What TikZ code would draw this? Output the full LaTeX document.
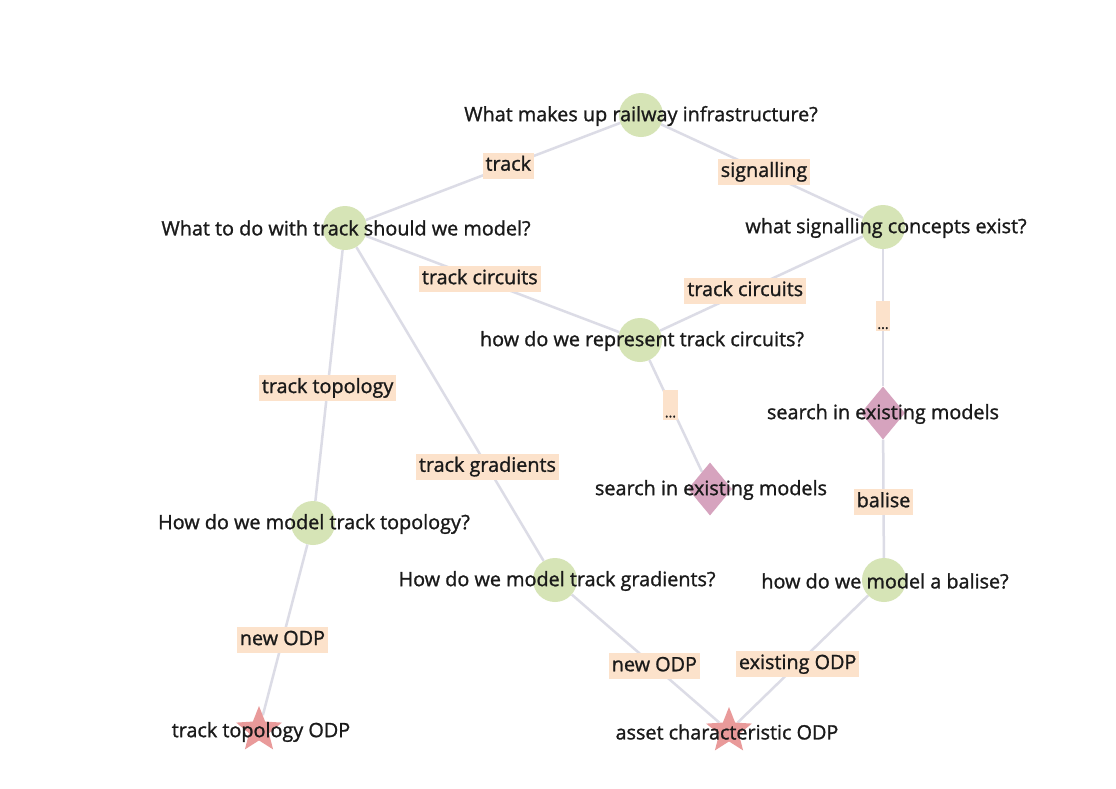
\documentclass[tikz,border=0pt]{standalone}
\usepackage{fontspec}
\setmainfont{Open Sans}[BoldFont={Open Sans},BoldFeatures={FakeBold=1.2}]
\usetikzlibrary{shapes.geometric,backgrounds}
\definecolor{edgec}{HTML}{DCDCE6}
\definecolor{greenc}{HTML}{D6E4B6}
\definecolor{pinkc}{HTML}{D6A3BE}
\definecolor{starc}{HTML}{E99A9A}
\definecolor{lblc}{HTML}{FCE2CB}
\definecolor{textc}{HTML}{1A1A1A}
\begin{document}
\begin{tikzpicture}[x=1pt,y=-1pt,
  q/.style={circle,fill=greenc,minimum size=44pt,inner sep=0pt},
  srch/.style={diamond,fill=pinkc,minimum width=44pt,minimum height=53pt,inner sep=0pt},
  odp/.style={star,star points=5,star point ratio=2.3,fill=starc,minimum size=48pt,inner sep=0pt},
  txt/.style={font=\fontsize{19.8}{21}\selectfont\bfseries,text=textc,inner sep=1pt},
  lbl/.style={fill=lblc,font=\fontsize{19.8}{21}\selectfont\bfseries,text=textc,inner xsep=3pt,inner ysep=3pt,text height=15pt,text depth=5pt},
  dots/.style={fill=lblc,font=\fontsize{14}{16}\selectfont\bfseries,text=textc,inner sep=1.5pt,text height=26pt,text depth=1pt},
  edge/.style={draw=edgec,line width=2.5pt}
]
\useasboundingbox (0,0) rectangle (1116,788);
% shapes
\node[q] (a) at (641,115) {};
\node[q] (b) at (345,228) {};
\node[q] (c) at (883,227) {};
\node[q] (d) at (640,340) {};
\node[srch] (e) at (883,413) {};
\node[srch] (f) at (710,489) {};
\node[q] (g) at (313,523) {};
\node[q] (h) at (555,580) {};
\node[q] (i) at (884,580) {};
\node[odp] (j) at (259,730) {};
\node[odp] (k) at (729,731) {};
% texts
\node[txt] (at) at (641,116) {What makes up railway infrastructure?};
\node[txt] (bt) at (346,228) {What to do with track should we model?};
\node[txt] (ct) at (886,228) {what signalling concepts exist?};
\node[txt] (dt) at (642,341) {how do we represent track circuits?};
\node[txt] (et) at (883,414) {search in existing models};
\node[txt] (ft) at (711,490) {search in existing models};
\node[txt] (gt) at (314,524) {How do we model track topology?};
\node[txt] (ht) at (557,581) {How do we model track gradients?};
\node[txt] (it) at (885,581) {how do we model a balise?};
\node[txt] (jt) at (261,732) {track topology ODP};
\node[txt] (kt) at (727,732) {asset characteristic ODP};
% edges
\begin{scope}[on background layer]
\fill[white] (0,0) rectangle (1116,788);
\draw[edge] (a) -- node[lbl,pos=0.44] (l1) {track} (b);
\draw[edge] (a) -- node[lbl,pos=0.51] (l2) {signalling} (c);
\draw[edge] (b) -- node[lbl,pos=0.45] (l3) {track circuits} (d);
\draw[edge] (c) -- node[lbl,pos=0.58] (l4) {track circuits} (d);
\draw[edge] (c) -- node[dots,pos=0.49] (l5) {...} (e);
\draw[edge] (d) -- node[dots,pos=0.40] (l6) {...} (f);
\draw[edge] (b) -- node[lbl,pos=0.55] (l7) {track topology} (g);
\draw[edge] (b) -- node[lbl,pos=0.70] (l8) {track gradients} (h);
\draw[edge] (e) -- node[lbl,pos=0.53] (l9) {balise} (i);
\draw[edge] (g) -- node[lbl,pos=0.56] (l10) {new ODP} (j);
\draw[edge] (h) -- node[lbl,pos=0.56] (l11) {new ODP} (k);
\draw[edge] (i) -- node[lbl,pos=0.54] (l12) {existing ODP} (k);
\end{scope}
\end{tikzpicture}
\end{document}
